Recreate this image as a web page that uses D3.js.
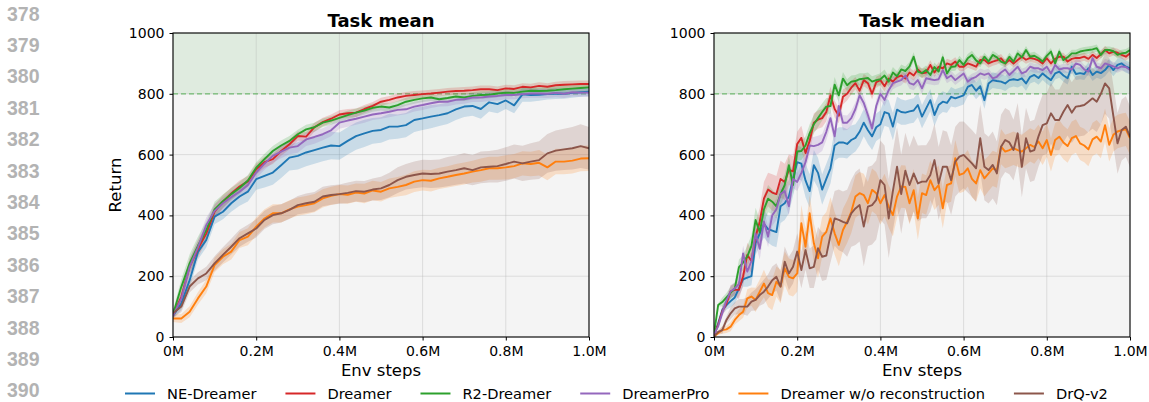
<!DOCTYPE html>
<html>
<head>
<meta charset="utf-8">
<script src="https://cdn.jsdelivr.net/npm/d3@7"></script>
<style>
  body { margin: 0; background: #fff; }
  svg text { font-family: "DejaVu Sans", sans-serif; }
</style>
</head>
<body>
<svg id="chart" width="1149" height="402"></svg>
<script>

var seriesNames = ['NE-Dreamer', 'Dreamer', 'R2-Dreamer', 'DreamerPro', 'Dreamer w/o reconstruction', 'DrQ-v2'];
var seriesColors = ['#1f77b4', '#d62728', '#2ca02c', '#9467bd', '#ff7f0e', '#8c564b'];
var yTicks = [0, 200, 400, 600, 800, 1000];
var xTicks = [0, 0.2, 0.4, 0.6, 0.8, 1.0];
var xTickLabels = ['0M', '0.2M', '0.4M', '0.6M', '0.8M', '1.0M'];
var lineNumbers = [378, 379, 380, 381, 382, 383, 384, 385, 386, 387, 388, 389, 390];
var targetScore = 800;

// Task mean, one value every 0.02M steps
var meanNE = [70,110,187,280,319,396,412,440,462,478, 519,530,541,565,590,596,607,615,623,630,
  628,645,661,670,678,681,692,692,697,714, 719,725,730,736,749,758,760,750,772,766,
  778,762,798,796,797,799,801,800,803,805, 807];
var meanDreamer = [72,132,231,290,340,412,445,472,495,512, 552,575,585,612,634,661,659,690,707,718,
  732,736,738,750,760,774,780,788,793,796, 799,801,804,807,809,810,812,815,815,812,
  818,816,823,821,826,823,828,830,831,832, 832];
var meanR2 = [75,165,242,300,352,420,447,470,490,515, 557,585,612,630,645,667,683,690,705,712,
  721,730,738,745,754,758,755,763,774,780, 785,788,782,786,791,788,793,796,797,801,
  804,803,807,810,809,810,812,815,817,819, 821];
var meanPro = [70,126,231,295,368,415,440,460,478,500, 541,570,596,610,623,628,650,658,667,680,
  705,712,718,725,732,736,741,747,749,758, 763,769,774,774,780,782,788,788,791,793,
  796,796,799,801,801,800,803,800,805,804, 804];
var meanNoRec = [61,61,83,127,166,237,264,281,319,330, 363,390,407,407,420,429,434,440,456,464,
  470,468,475,472,482,478,489,494,500,511, 516,514,522,527,533,538,544,549,555,555,
  558,562,571,569,573,558,577,577,580,587, 588];
var meanDrQ = [78,100,166,193,209,242,270,297,325,341, 357,385,401,407,418,434,440,445,462,467,
  470,474,480,478,485,489,500,516,527,533, 538,536,538,544,549,555,549,558,560,562,
  569,577,571,577,582,604,613,617,621,628, 621];

// half width of the shaded spread, Task mean
var meanNEBand = [12,20,25,25,25,25,25,28,30,32, 35,38,40,42,42,45,45,45,45,45, 45,45,45,45,42,42,42,40,40,40,
  38,38,36,35,35,34,32,32,30,30, 28,26,24,22,20,18,18,16,16,15, 15];
var meanDreamerBand = [12,22,28,28,26,24,22,20,20,18, 18,18,16,16,16,15,15,15,14,14, 14,14,14,13,13,13,13,13,13,13,
  12,12,12,12,12,12,12,12,12,12, 12,12,12,12,12,12,12,12,12,12, 12];
var meanR2Band = [12,25,30,30,28,25,22,20,20,18, 18,18,16,16,16,15,15,15,14,14, 14,14,14,13,13,13,13,13,13,13,
  12,12,12,12,12,12,12,12,12,12, 12,12,12,12,12,12,12,12,12,12, 12];
var meanProBand = [12,20,25,25,25,22,20,20,20,20, 20,20,22,22,22,22,22,22,20,20, 20,20,20,20,18,18,18,18,16,16,
  16,16,16,15,15,15,15,15,15,15, 14,14,14,14,14,14,14,14,14,14, 14];
var meanNoRecBand = [12,15,18,20,22,24,25,26,26,28, 30,30,30,30,30,30,30,30,30,30, 30,30,30,32,32,32,32,32,34,34,
  34,35,35,35,36,36,36,38,38,38, 40,40,40,40,42,42,42,42,42,42, 42];
var meanDrQBand = [15,18,20,20,22,24,25,26,28,28, 30,30,30,30,30,30,32,32,32,32, 32,34,34,35,36,38,40,42,42,44,
  45,46,46,48,48,50,50,52,52,54, 55,56,58,60,62,64,66,68,70,72, 70];

// Task median, one value every 0.01M steps
var medNE = [5,45,89,105,118,130,160,190,195,200, 310,340,372,355,350,345,430,440,462,520,
  575,570,515,480,565,540,485,520,555,630, 640,640,635,648,655,675,705,680,660,690,
  700,740,735,692,748,740,738,742,745,763, 725,752,779,730,763,774,770,790,785,790,
  795,823,829,810,825,779,834,845,842,840, 834,845,848,845,851,834,856,862,852,867,
  855,845,867,873,860,851,889,865,868,865, 884,862,873,868,878,895,878,895,900,889, 884];
var medDreamer = [8,40,85,110,150,155,155,200,270,250, 330,380,455,485,475,470,520,510,550,545,
  635,655,605,645,705,715,720,740,795,750, 728,790,800,820,835,810,845,835,800,838,
  845,825,850,840,855,860,850,870,860,880, 867,870,895,870,889,884,900,895,906,889,
  889,900,895,889,911,911,900,906,910,917, 900,911,900,911,922,912,918,915,910,900,
  917,900,915,922,922,906,915,918,918,922, 915,928,918,930,944,933,939,935,928,922, 933];
var medR2 = [10,105,115,130,145,160,230,245,265,300, 385,345,420,455,445,430,470,500,565,500,
  610,612,630,670,700,720,740,758,760,830, 795,850,828,840,842,848,850,852,840,845,
  848,860,840,870,858,880,875,890,922,873, 868,878,862,888,873,920,867,889,890,911,
  895,917,928,910,900,922,906,928,920,906, 900,922,906,933,920,944,922,925,917,906,
  925,939,900,939,911,920,933,933,939,942, 944,946,950,928,944,944,940,928,933,935, 944];
var medPro = [8,35,80,120,150,160,175,275,215,250, 340,290,380,330,400,420,470,480,430,520,
  510,540,575,630,628,632,640,675,720,660, 760,705,705,720,750,795,770,730,686,760,
  800,780,812,835,840,845,860,835,830,845, 818,851,848,845,848,878,851,860,845,856,
  867,840,850,856,867,862,867,851,856,870, 880,862,875,889,867,873,889,884,884,878,
  889,867,895,880,884,884,880,900,895,880, 873,917,889,884,900,895,890,884,890,888, 878];
var medNoRec = [2,12,23,25,34,56,72,83,127,133, 122,149,176,144,138,182,166,226,198,193,
  209,374,297,407,308,259,330,346,390,341, 303,352,379,412,462,473,467,440,484,473,
  440,467,429,401,462,495,494,440,483,390, 473,467,516,483,500,423,500,505,588,533,
  538,555,520,505,549,522,538,555,549,626, 610,615,621,615,610,621,632,625,643,621,
  648,599,648,659,640,628,654,661,637,630, 617,650,659,643,697,632,665,676,680,683, 654];
var medDrQ = [2,17,23,56,78,94,100,100,100,116, 122,138,149,166,187,198,166,248,209,231,
  281,220,286,226,231,292,264,268,335,390, 385,379,374,407,423,434,363,429,434,451,
  516,500,390,480,560,470,547,500,538,505, 511,511,533,582,505,560,560,516,577,593,
  599,585,571,555,654,560,549,566,538,626, 648,640,615,670,560,654,610,615,660,697,
  703,736,714,714,741,763,738,758,760,763, 774,785,774,800,834,818,727,637,681,692, 659];

// half width of the shaded spread, Task median (one value every 0.02M)
var medNEBand = [5,15,20,25,30,40,45,50,55,55, 55,55,50,50,50,50,48,45,45,45, 45,45,42,40,40,38,36,34,32,30,
  30,28,28,26,25,25,24,24,22,22, 22,20,20,20,20,20,20,20,20,20, 20];
var medDreamerBand = [5,15,20,30,40,45,55,60,60,50, 40,35,30,30,28,25,22,20,20,18, 18,18,16,16,16,15,15,15,15,14,
  14,14,14,14,14,13,13,13,13,13, 13,13,13,13,13,13,13,13,13,13, 13];
var medR2Band = [5,15,20,25,35,40,45,40,35,30, 30,30,30,28,25,22,20,20,18,18, 20,18,16,15,15,15,15,14,14,14,
  14,14,13,13,13,13,13,13,13,12, 12,12,12,12,12,12,12,12,12,12, 12];
var medProBand = [5,15,20,25,30,35,35,35,35,30, 30,30,30,28,26,25,24,22,22,20, 20,20,18,18,18,18,17,17,16,16,
  16,16,16,15,15,15,15,15,15,15, 15,15,15,15,15,15,15,15,15,15, 15];
var medNoRecBand = [5,12,15,20,30,40,45,50,55,60, 60,60,65,65,70,70,70,70,70,70, 70,70,70,70,70,65,65,65,60,60,
  60,60,60,58,58,55,55,55,55,55, 55,55,55,55,55,55,55,55,55,55, 55];
var medDrQBand = [5,12,20,25,30,35,40,45,50,55, 60,65,70,80,90,100,110,120,130,130, 130,130,130,125,125,120,120,120,115,115,
  110,110,110,110,105,105,100,100,100,100, 100,100,100,100,100,100,100,100,100,100, 100];

var svg = d3.select('#chart');
var plotTop = 33, plotBottom = 337;

var panels = [
  {left: 173, right: 589, title: 'Task mean', step: 0.02, ylabel: 'Return',
   values: [meanNE, meanDreamer, meanR2, meanPro, meanNoRec, meanDrQ],
   bands: [meanNEBand, meanDreamerBand, meanR2Band, meanProBand, meanNoRecBand, meanDrQBand],
   bandAt: function(i) { return i; }},
  {left: 714, right: 1130, title: 'Task median', step: 0.01, ylabel: null,
   values: [medNE, medDreamer, medR2, medPro, medNoRec, medDrQ],
   bands: [medNEBand, medDreamerBand, medR2Band, medProBand, medNoRecBand, medDrQBand],
   bandAt: function(i) { return Math.floor(i / 2); }}
];

// line numbers of the page margin
svg.selectAll('text.lineno')
    .data(lineNumbers)
  .enter().append('text')
    .attr('class', 'lineno')
    .attr('x', 7)
    .attr('y', function(d, i) { return 20.5 + i * 31.4; })
    .style('font-family', '"Liberation Sans", Arial, sans-serif')
    .style('font-weight', 'bold')
    .style('font-size', '19.5px')
    .attr('fill', '#b3b3b3')
    .text(function(d) { return d; });

panels.forEach(function(p, pi) {
  var x = d3.scaleLinear().domain([0, 1]).range([p.left, p.right]);
  var y = d3.scaleLinear().domain([0, 1000]).range([plotBottom, plotTop]);
  var g = svg.append('g');
  var clipId = 'clip' + pi;

  g.append('clipPath').attr('id', clipId)
    .append('rect')
      .attr('x', p.left).attr('y', plotTop)
      .attr('width', p.right - p.left).attr('height', plotBottom - plotTop);

  g.append('rect')
      .attr('x', p.left).attr('y', plotTop)
      .attr('width', p.right - p.left).attr('height', plotBottom - plotTop)
      .attr('fill', '#f4f4f4');

  g.append('rect')
      .attr('x', p.left).attr('y', y(1000))
      .attr('width', p.right - p.left).attr('height', y(targetScore) - y(1000))
      .attr('fill', '#2ca02c').attr('fill-opacity', 0.1);

  // grid
  g.selectAll('line.hgrid').data(yTicks).enter().append('line')
      .attr('x1', p.left).attr('x2', p.right)
      .attr('y1', function(d) { return y(d); }).attr('y2', function(d) { return y(d); })
      .attr('stroke', '#b0b0b0').attr('stroke-opacity', 0.35).attr('stroke-width', 1);
  g.selectAll('line.vgrid').data(xTicks).enter().append('line')
      .attr('y1', plotTop).attr('y2', plotBottom)
      .attr('x1', function(d) { return x(d); }).attr('x2', function(d) { return x(d); })
      .attr('stroke', '#b0b0b0').attr('stroke-opacity', 0.35).attr('stroke-width', 1);

  g.append('line')
      .attr('x1', p.left).attr('x2', p.right)
      .attr('y1', y(targetScore)).attr('y2', y(targetScore))
      .attr('stroke', '#2ca02c').attr('stroke-opacity', 0.6)
      .attr('stroke-width', 1.3).attr('stroke-dasharray', '5,3');

  var plot = g.append('g').attr('clip-path', 'url(#' + clipId + ')');

  var area = d3.area()
      .x(function(d) { return x(d.t); })
      .y0(function(d) { return y(d.v - d.b); })
      .y1(function(d) { return y(d.v + d.b); });
  var line = d3.line()
      .x(function(d) { return x(d.t); })
      .y(function(d) { return y(d.v); });

  var rows = p.values.map(function(vals, si) {
    return vals.map(function(v, i) {
      return {t: i * p.step, v: v, b: p.bands[si][p.bandAt(i)]};
    });
  });

  rows.forEach(function(r, si) {
    plot.append('path').datum(r)
        .attr('d', area)
        .attr('fill', seriesColors[si]).attr('fill-opacity', 0.2);
  });
  rows.forEach(function(r, si) {
    plot.append('path').datum(r)
        .attr('d', line)
        .attr('fill', 'none')
        .attr('stroke', seriesColors[si])
        .attr('stroke-width', 1.9)
        .attr('stroke-linejoin', 'round');
  });

  // axes
  var xAxis = g.append('g')
      .attr('transform', 'translate(0,' + plotBottom + ')')
      .call(d3.axisBottom(x).tickValues(xTicks).tickSize(3.5).tickPadding(5.5)
        .tickFormat(function(d, i) { return xTickLabels[i]; }));
  var yAxis = g.append('g')
      .attr('transform', 'translate(' + p.left + ',0)')
      .call(d3.axisLeft(y).tickValues(yTicks).tickSize(3.5).tickPadding(5)
        .tickFormat(d3.format('d')));
  [xAxis, yAxis].forEach(function(a) {
    a.select('.domain').remove();
    a.selectAll('text').attr('fill', '#000')
        .style('font-family', '"DejaVu Sans", sans-serif').style('font-size', '14px');
    a.selectAll('line').attr('stroke', '#000').attr('stroke-width', 1);
  });

  g.append('rect')
      .attr('x', p.left).attr('y', plotTop)
      .attr('width', p.right - p.left).attr('height', plotBottom - plotTop)
      .attr('fill', 'none').attr('stroke', '#000').attr('stroke-width', 1.1);

  g.append('text')
      .attr('x', (p.left + p.right) / 2).attr('y', 27)
      .attr('text-anchor', 'middle')
      .style('font-weight', 'bold').style('font-size', '18px')
      .text(p.title);

  g.append('text')
      .attr('x', (p.left + p.right) / 2).attr('y', 376)
      .attr('text-anchor', 'middle')
      .style('font-size', '16.5px')
      .text('Env steps');

  if (p.ylabel) {
    g.append('text')
        .attr('transform', 'translate(121,' + ((plotTop + plotBottom) / 2) + ') rotate(-90)')
        .attr('text-anchor', 'middle')
        .style('font-size', '16.5px')
        .text(p.ylabel);
  }
});

// legend
var legend = svg.append('g');
var lx = 125;
seriesNames.forEach(function(name, i) {
  legend.append('line')
      .attr('x1', lx).attr('x2', lx + 30)
      .attr('y1', 393.5).attr('y2', 393.5)
      .attr('stroke', seriesColors[i]).attr('stroke-width', 2);
  var t = legend.append('text')
      .attr('x', lx + 42).attr('y', 398.5)
      .style('font-size', '14.6px')
      .text(name);
  lx += 42 + t.node().getComputedTextLength() + 29;
});

</script>
</body>
</html>
